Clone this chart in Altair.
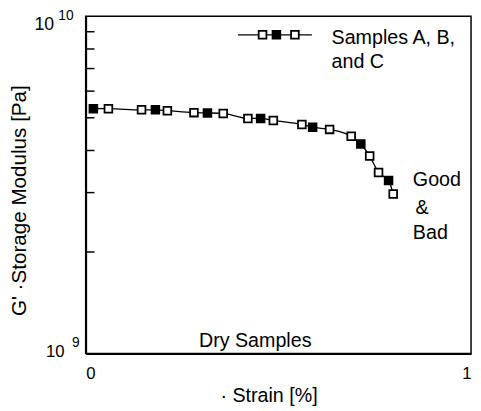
import altair as alt
import pandas as pd

# ---- data ----
strain = [0.020, 0.059, 0.145, 0.181, 0.212, 0.281, 0.316, 0.357, 0.421, 0.454,
          0.487, 0.561, 0.589, 0.633, 0.689, 0.714, 0.737, 0.760, 0.786, 0.798]
modulus_g = [5.32, 5.32, 5.28, 5.28, 5.25, 5.18, 5.17, 5.15, 4.98, 4.98,
             4.91, 4.78, 4.69, 4.62, 4.41, 4.18, 3.85, 3.44, 3.26, 2.97]
marker = ["filled", "open", "open", "filled", "open", "open", "filled", "open", "open", "filled",
          "open", "open", "filled", "open", "open", "filled", "open", "open", "filled", "open"]

y_minor_ticks = [2e9, 3e9, 4e9, 5e9, 6e9, 7e9, 8e9, 9e9]
x_tick_values = [0, 1]

legend_line_x = [0.395, 0.587]
legend_marker_x = [0.459, 0.495, 0.543]
legend_marker_kind = ["open", "filled", "open"]
legend_y = 8.81e9

annotations = [
    {"text": "Samples A, B,", "x": 0.638, "y": 8.63e9},
    {"text": "and C", "x": 0.638, "y": 7.30e9},
    {"text": "Good", "x": 0.849, "y": 3.26e9},
    {"text": "&", "x": 0.856, "y": 2.70e9},
    {"text": "Bad", "x": 0.849, "y": 2.28e9},
]
center_annotations = [{"text": "Dry Samples", "x": 0.44, "y": 1.091e9}]

FONT = "Liberation Sans"

df = pd.DataFrame({"strain": strain,
                   "modulus": [v * 1e9 for v in modulus_g],
                   "marker": marker})

xs = alt.Scale(domain=[0, 1], nice=False, zero=False)
ys = alt.Scale(type="log", domain=[1e9, 1e10], nice=False)

x_axis = alt.Axis(values=x_tick_values, format="d", labelFontSize=17, labelFont=FONT,
                  labelColor="black", ticks=False, labelPadding=12, domainWidth=2,
                  domainColor="black", grid=False, title="· Strain [%]", titleFont=FONT,
                  titleFontSize=20, titleFontWeight="normal", titleColor="black",
                  titleX=186, titleY=43, titleBaseline="middle")
y_axis = alt.Axis(labels=False, ticks=False, domainWidth=2, domainColor="black", grid=False,
                  title="G' ·Storage Modulus [Pa]", titleFont=FONT, titleFontSize=21,
                  titleFontWeight="normal", titleColor="black", titleX=-67, titleY=187,
                  titleBaseline="middle", titleAlign="center")

line = alt.Chart(df).mark_line(color="black", strokeWidth=1.3, interpolate="monotone").encode(
    x=alt.X("strain:Q", scale=xs, axis=x_axis),
    y=alt.Y("modulus:Q", scale=ys, axis=y_axis),
)

fill_cond = alt.condition(alt.datum.marker == "filled", alt.value("black"), alt.value("white"))

points = alt.Chart(df).mark_square(size=62, stroke="black", strokeWidth=1.8, opacity=1).encode(
    x=alt.X("strain:Q", scale=xs),
    y=alt.Y("modulus:Q", scale=ys),
    fill=fill_cond,
)

ticks = alt.Chart(pd.DataFrame({"v": y_minor_ticks})).mark_rule(color="black", strokeWidth=1.5).encode(
    y=alt.Y("v:Q", scale=ys),
    x=alt.value(0), x2=alt.value(9),
)

# y tick labels with exponents
ylab_df = pd.DataFrame({"v": [1e10], "base": ["10"], "exp": ["10"]})
ylab_df9 = pd.DataFrame({"v": [1e9], "base": ["10"], "exp": ["9"]})
ylab_top = alt.Chart(ylab_df).mark_text(font=FONT, fontSize=18, color="black", dy=9,
                                        align="center", baseline="middle").encode(
    y=alt.Y("v:Q", scale=ys), x=alt.value(-42), text="base:N")
yexp_top = alt.Chart(ylab_df).mark_text(font=FONT, fontSize=14, color="black", dy=0,
                                        align="center", baseline="middle").encode(
    y=alt.Y("v:Q", scale=ys), x=alt.value(-20), text="exp:N")
ylab_bot = alt.Chart(ylab_df9).mark_text(font=FONT, fontSize=17, color="black", dy=-1,
                                         align="center", baseline="middle").encode(
    y=alt.Y("v:Q", scale=ys), x=alt.value(-31), text="base:N")
yexp_bot = alt.Chart(ylab_df9).mark_text(font=FONT, fontSize=14, color="black", dy=-11,
                                         align="center", baseline="middle").encode(
    y=alt.Y("v:Q", scale=ys), x=alt.value(-10), text="exp:N")

# legend sample
leg_line = alt.Chart(pd.DataFrame({"x": legend_line_x, "y": [legend_y] * 2})).mark_line(
    color="black", strokeWidth=1.3).encode(
    x=alt.X("x:Q", scale=xs), y=alt.Y("y:Q", scale=ys))
leg_pts = alt.Chart(pd.DataFrame({"x": legend_marker_x, "y": [legend_y] * 3,
                                  "marker": legend_marker_kind})).mark_square(
    size=62, stroke="black", strokeWidth=1.8, opacity=1).encode(
    x=alt.X("x:Q", scale=xs), y=alt.Y("y:Q", scale=ys), fill=fill_cond)

notes = alt.Chart(pd.DataFrame(annotations)).mark_text(
    font=FONT, fontSize=20, color="black", align="left", baseline="middle").encode(
    x=alt.X("x:Q", scale=xs), y=alt.Y("y:Q", scale=ys), text="text:N")
notes_c = alt.Chart(pd.DataFrame(center_annotations)).mark_text(
    font=FONT, fontSize=20, color="black", align="center", baseline="middle").encode(
    x=alt.X("x:Q", scale=xs), y=alt.Y("y:Q", scale=ys), text="text:N")

chart = alt.layer(
    line, ticks, points, leg_line, leg_pts, notes, notes_c,
    ylab_top, yexp_top, ylab_bot, yexp_bot,
).properties(
    width=392, height=343,
    autosize=alt.AutoSizeParams(type="none"),
    padding={"left": 79, "top": 5, "right": 2, "bottom": 53},
    background="white",
).configure_view(
    stroke="black", strokeWidth=1.5
)

chart.save("out.html", embed_options={"renderer": "svg", "actions": False})
